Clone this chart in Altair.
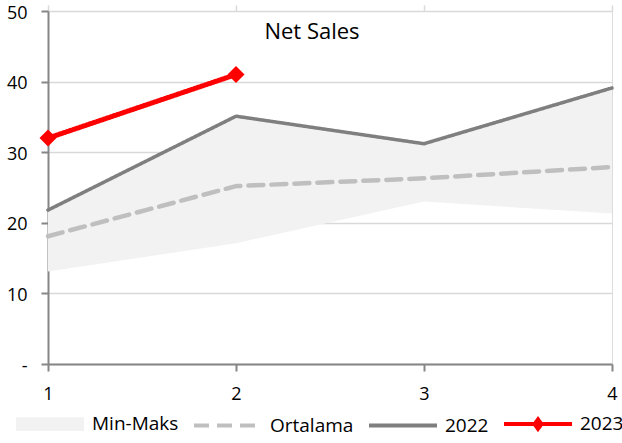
import altair as alt
import pandas as pd

# ---- data ----
quarters = [1, 2, 3, 4]
min_vals = [13.1, 17.1, 23.0, 21.3]
max_vals = [21.8, 35.1, 31.2, 39.1]
avg_vals = [18.1, 25.2, 26.3, 27.9]
y2022 = [21.8, 35.1, 31.2, 39.1]
y2023 = [32.0, 41.0]
series_names = ["Min-Maks", "Ortalama", "2022", "2023"]
y_ticks = [0, 10, 20, 30, 40, 50]

FONT = "Open Sans"
AXIS_COL = "#868686"
GRID_COL = "#d9d9d9"
COLORS = ["#f2f2f2", "#bfbfbf", "#7f7f7f", "#ff0000"]
DASHES = [[1, 0], [15, 8], [1, 0], [1, 0]]
# legend glyphs: a solid swatch (hatched densely) for the band, a line with a diamond for 2023
SWATCH = ("M-1,-0.14L1,-0.14M-1,-0.07L1,-0.07M-1,0L1,0"
          "M-1,0.07L1,0.07M-1,0.14L1,0.14")
LINE_DIAMOND = "M-1,0L1,0M-0.1,0L0,-0.14L0.1,0L0,0.14Z"

band = pd.DataFrame({"q": quarters, "lo": min_vals, "hi": max_vals})
lines = pd.DataFrame({
    "q": quarters + quarters + quarters[:2],
    "v": avg_vals + y2022 + y2023,
    "series": ["Ortalama"] * 4 + ["2022"] * 4 + ["2023"] * 2,
})

xscale = alt.Scale(domain=[1, 4], nice=False, zero=False)
yscale = alt.Scale(domain=[0, 50], nice=False)

legend = alt.Legend(
    orient="none", legendX=-34, legendY=377, direction="horizontal",
    title=None, symbolType="stroke", symbolSize=4624, symbolStrokeWidth=4,
    symbolOpacity=1,
    labelFont=FONT, labelFontSize=19, labelColor="black",
    labelOffset=6, columnPadding=7,
)

color_enc = alt.Color("series:N", scale=alt.Scale(domain=series_names, range=COLORS), legend=legend)
dash_enc = alt.StrokeDash("series:N", scale=alt.Scale(domain=series_names, range=DASHES), legend=legend)

x_bottom = alt.X("q:Q", scale=xscale, axis=alt.Axis(
    values=quarters, format="d", title=None, grid=False,
    domainColor=AXIS_COL, domainWidth=2, tickColor=AXIS_COL, tickWidth=2,
    tickSize=7, labelFont=FONT, labelFontSize=18, labelColor="black",
    labelPadding=14, labelFlush=False))
x_top = alt.X("q:Q", scale=xscale, axis=alt.Axis(
    orient="top", values=quarters, labels=False, title=None, grid=False,
    domain=False, tickColor=GRID_COL, tickWidth=1.5, tickSize=6))
x_none = alt.X("q:Q", scale=xscale, axis=None)
y_plain = alt.Y("v:Q", scale=yscale)

area = alt.Chart(band).mark_area(color="#f2f2f2", opacity=1).encode(
    x=x_bottom,
    y=alt.Y("lo:Q", scale=yscale, axis=alt.Axis(
        values=y_ticks, title=None,
        labelExpr="datum.value == 0 ? '-' : datum.label",
        grid=True, gridColor=GRID_COL, gridWidth=1.5,
        domainColor=AXIS_COL, domainWidth=2, tickColor=AXIS_COL,
        tickWidth=2, tickSize=7, labelPadding=14, labelOffset=2, labelFont=FONT,
        labelFontSize=18, labelColor="black")),
    y2="hi:Q",
)


def series_line(name, width):
    return alt.Chart(lines).transform_filter(
        alt.datum.series == name
    ).mark_line(strokeWidth=width, strokeCap="round", strokeJoin="round").encode(
        x=x_none, y=y_plain, color=color_enc, strokeDash=dash_enc,
    )


line_avg = series_line("Ortalama", 4.5)
line_2022 = series_line("2022", 3.5)
line_2023 = series_line("2023", 5)

legend_shape = alt.Chart(lines).transform_filter("false").mark_point(opacity=1).encode(
    x=x_none, y=y_plain,
    shape=alt.Shape("series:N", scale=alt.Scale(
        domain=series_names, range=[SWATCH, "stroke", "stroke", LINE_DIAMOND]), legend=legend),
)

diamonds = alt.Chart(lines).transform_filter(
    alt.datum.series == "2023"
).mark_point(shape="diamond", filled=True, size=290, color="#ff0000", opacity=1).encode(
    x=x_top, y=y_plain,
)

chart = alt.layer(area, line_avg, line_2022, line_2023, legend_shape, diamonds).resolve_axis(
    x="independent"
).properties(
    width=564, height=353,
    padding={"left": 48, "top": 11, "right": 10, "bottom": 79},
    autosize=alt.AutoSizeParams(type="none"),
    title=alt.TitleParams("Net Sales", font=FONT, fontSize=22, fontWeight="normal",
                          color="black", anchor="middle", dx=-18, dy=31, offset=-26,
                          baseline="alphabetic", frame="group"),
).configure_view(stroke=None).configure(background="white")

chart.save("out.html", embed_options={"renderer": "svg", "actions": False})
